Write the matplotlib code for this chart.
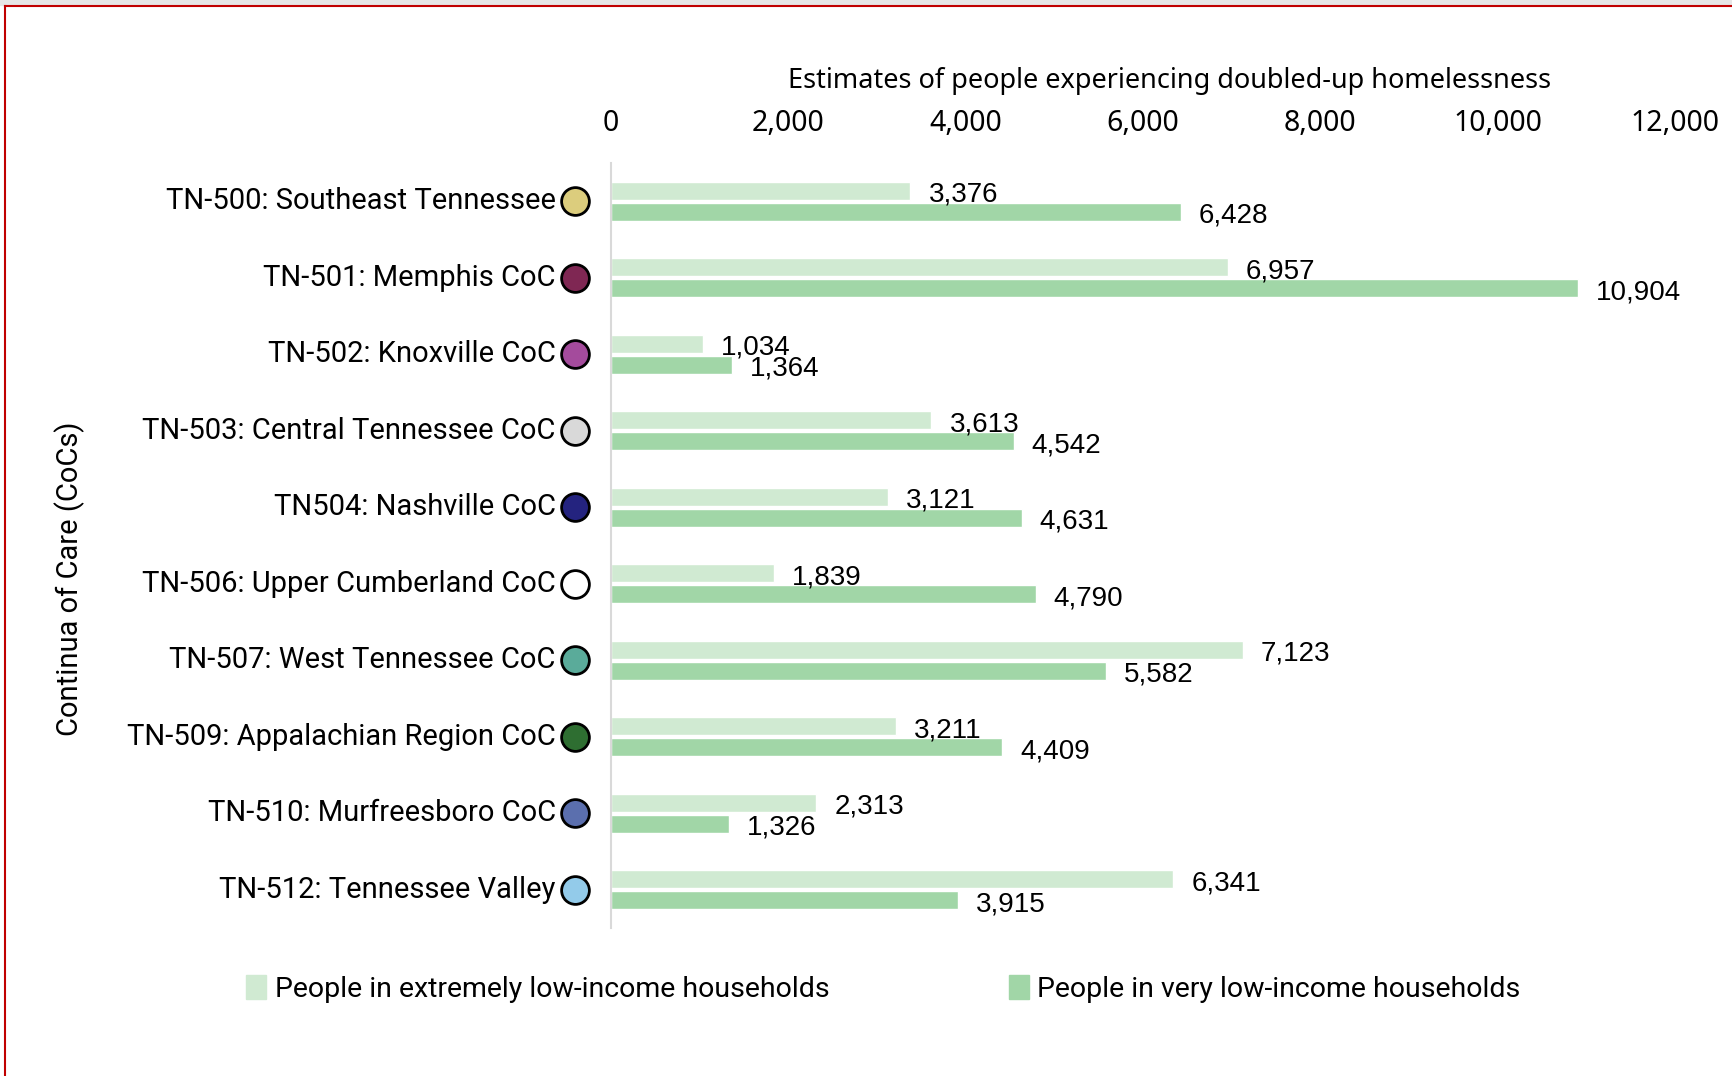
import numpy as np
import matplotlib.pyplot as plt
from matplotlib.patches import Patch, Rectangle
from matplotlib.lines import Line2D

plt.rcParams["font.family"] = ["Noto Sans", "DejaVu Sans"]

# 各 CoC 的名称和两类估计人数
cocs = ["TN-500: Southeast Tennessee", "TN-501: Memphis CoC", "TN-502: Knoxville CoC",
        "TN-503: Central Tennessee CoC", "TN504: Nashville CoC", "TN-506: Upper Cumberland CoC",
        "TN-507: West Tennessee CoC", "TN-509: Appalachian Region CoC",
        "TN-510: Murfreesboro CoC", "TN-512: Tennessee Valley"]
extremely_low = [3376, 6957, 1034, 3613, 3121, 1839, 7123, 3211, 2313, 6341]
very_low = [6428, 10904, 1364, 4542, 4631, 4790, 5582, 4409, 1326, 3915]
dot_colors = ["#dccd7d", "#7f2753", "#a44b9c", "#d9d9d9", "#24237f",
              "#ffffff", "#5aab9a", "#2e6e31", "#5b6fae", "#93cbea"]
series_names = ["People in extremely low-income households",
                "People in very low-income households"]
xticks = [0, 2000, 4000, 6000, 8000, 10000, 12000]

light_green = "#d0ead2"
mid_green = "#a1d6a7"
narrow = ["Liberation Sans Narrow", "Roboto", "DejaVu Sans"]


def main():
    fig = plt.figure(figsize=(17.32, 10.76), dpi=100)
    ax = fig.add_axes([0.3528, 0.1375, 0.6143, 0.711])

    y = np.arange(len(cocs))
    h = 0.235
    ax.barh(y - 0.137, extremely_low, height=h, color=light_green, edgecolor="white", linewidth=1)
    ax.barh(y + 0.137, very_low, height=h, color=mid_green, edgecolor="white", linewidth=1)

    # 数据标签
    for i in range(len(cocs)):
        ax.annotate(f"{extremely_low[i]:,}", (extremely_low[i], y[i] - 0.137),
                    xytext=(13, -3), textcoords="offset points", va="center",
                    fontsize=20, family="Liberation Sans")
        ax.annotate(f"{very_low[i]:,}", (very_low[i], y[i] + 0.137),
                    xytext=(13, -3), textcoords="offset points", va="center",
                    fontsize=20, family="Liberation Sans")

    ax.set_xlim(0, 12000)
    ax.set_ylim(9.5, -0.5)
    ax.xaxis.tick_top()
    ax.set_xticks(xticks)
    ax.set_xticklabels([f"{t:,}" for t in xticks], fontsize=20.5)
    ax.tick_params(axis="x", length=0, pad=18)
    ax.set_yticks(y)
    ax.set_yticklabels([])
    ax.tick_params(axis="y", length=0)
    for s in ["top", "right", "bottom"]:
        ax.spines[s].set_visible(False)
    ax.spines["left"].set_color("#d9d9d9")
    ax.spines["left"].set_linewidth(1.5)

    # 分类名称和彩色圆点
    for i, name in enumerate(cocs):
        ax.plot(-0.0335, y[i], "o", transform=ax.get_yaxis_transform(), clip_on=False,
                markersize=20, markerfacecolor=dot_colors[i], markeredgecolor="black",
                markeredgewidth=2)
        ax.text(-0.052, y[i], name, transform=ax.get_yaxis_transform(), ha="right",
                va="center", fontsize=21, family=narrow)

    fig.text(0.675, 0.925, "Estimates of people experiencing doubled-up homelessness",
             ha="center", va="center", fontsize=19.5)
    fig.text(0.040, 0.462, "Continua of Care (CoCs)", rotation=90, ha="center",
             va="center", fontsize=21, family=narrow)

    handles = [Patch(color=light_green), Patch(color=mid_green)]
    fig.legend(handles, series_names, loc="center", bbox_to_anchor=(0.51, 0.081), ncol=2,
               frameon=False, prop={"family": narrow, "size": 20.5},
               handlelength=0.7, handleheight=0.9, handletextpad=0.3, columnspacing=6.3)

    # 外框
    fig.patches.append(Rectangle((0, 0.995), 1, 0.005, transform=fig.transFigure,
                                 color="#e6e6e6", zorder=0))
    fig.lines.append(Line2D([0.003, 1], [0.9945, 0.9945], transform=fig.transFigure,
                            color="#c00000", linewidth=1.5))
    fig.lines.append(Line2D([0.003, 0.003], [0, 0.9945], transform=fig.transFigure,
                            color="#c00000", linewidth=1.5))

    fig.savefig("out.png", dpi=100)


if __name__ == '__main__':
    main()
